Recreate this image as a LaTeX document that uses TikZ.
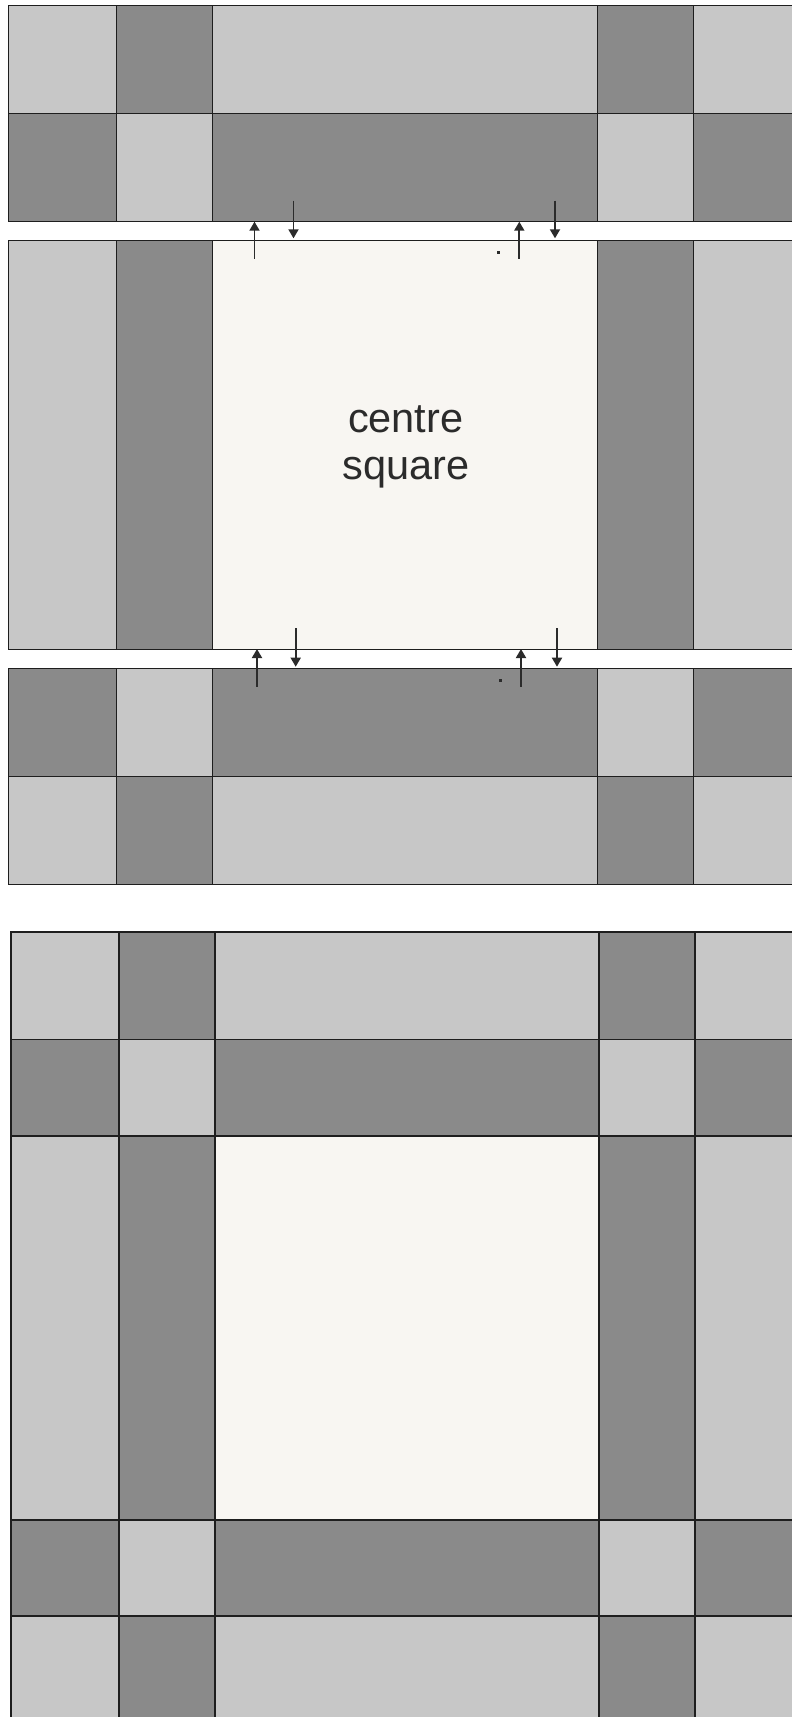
\documentclass[tikz,border=0pt]{standalone}
\usepackage{fontspec}
\setmainfont{Liberation Sans}
\usetikzlibrary{arrows.meta}
\definecolor{qlt}{HTML}{C7C7C7}
\definecolor{qdk}{HTML}{8A8A8A}
\definecolor{qcr}{HTML}{F8F6F2}
\definecolor{qln}{HTML}{1E1E1E}
\definecolor{qar}{HTML}{2B2B2B}
\begin{document}
\begin{tikzpicture}[x=1pt,y=-1pt,
  cellA/.style={draw=qln,line width=1pt},
  cellB/.style={draw=qln,line width=1.6pt},
  arr/.style={draw=qar,line width=1.8pt,-{Triangle[width=10pt,length=9pt]}},
  lbl/.style={text=qar,font=\fontsize{41.5}{44}\selectfont,inner sep=0pt,anchor=base}]
\useasboundingbox (0,0) rectangle (792,1717);
\fill[white] (0,0) rectangle (792,1717);
\begin{scope}
\clip (0,0) rectangle (792,1717);
% upper (exploded) quilt
\foreach \ya/\yb/\ca/\cb/\cc in {5.3/113.3/qlt/qdk/qlt, 113.3/221.7/qdk/qlt/qdk, 240.7/649/qlt/qdk/qcr, 668.3/776/qdk/qlt/qdk, 776/884.3/qlt/qdk/qlt}{
  \path[cellA,fill=\ca] (8.3,\ya) rectangle (116.7,\yb);
  \path[cellA,fill=\cb] (116.7,\ya) rectangle (212.7,\yb);
  \path[cellA,fill=\cc] (212.7,\ya) rectangle (597,\yb);
  \path[cellA,fill=\cb] (597,\ya) rectangle (693.3,\yb);
  \path[cellA,fill=\ca] (693.3,\ya) rectangle (810,\yb);
}
% lower (assembled) quilt
\foreach \ya/\yb/\ca/\cb/\cc in {931.7/1039.3/qlt/qdk/qlt, 1039.3/1135.7/qdk/qlt/qdk, 1135.7/1519.7/qlt/qdk/qcr, 1519.7/1615.7/qdk/qlt/qdk, 1615.7/1730/qlt/qdk/qlt}{
  \path[cellB,fill=\ca] (10.7,\ya) rectangle (118.7,\yb);
  \path[cellB,fill=\cb] (118.7,\ya) rectangle (215,\yb);
  \path[cellB,fill=\cc] (215,\ya) rectangle (598.7,\yb);
  \path[cellB,fill=\cb] (598.7,\ya) rectangle (695,\yb);
  \path[cellB,fill=\ca] (695,\ya) rectangle (810,\yb);
}
\end{scope}
% arrows, top seam
\coordinate (a1s) at (254.5,258.5); \coordinate (a1e) at (254.5,221.7);
\coordinate (a2s) at (293.5,200.7); \coordinate (a2e) at (293.5,238.3);
\coordinate (a3s) at (519.3,258.5); \coordinate (a3e) at (519.3,221.7);
\coordinate (a4s) at (555,200.7);   \coordinate (a4e) at (555,238.3);
% arrows, bottom seam
\coordinate (b1s) at (257,686.7);   \coordinate (b1e) at (257,649);
\coordinate (b2s) at (295.7,628.3); \coordinate (b2e) at (295.7,666.7);
\coordinate (b3s) at (521,686.7);   \coordinate (b3e) at (521,649);
\coordinate (b4s) at (557,628.3);   \coordinate (b4e) at (557,666.7);
\foreach \p in {a1,a2,a3,a4,b1,b2,b3,b4}{
  \draw[arr] (\p s) -- (\p e);
}
\fill[qar] (496.8,251.2) rectangle (499.8,254.2);
\fill[qar] (498.8,678.8) rectangle (501.8,681.8);
\node[lbl] (t1) at (405.7,432.7) {centre};
\node[lbl] (t2) at (405.7,479) {square};
\end{tikzpicture}
\end{document}
